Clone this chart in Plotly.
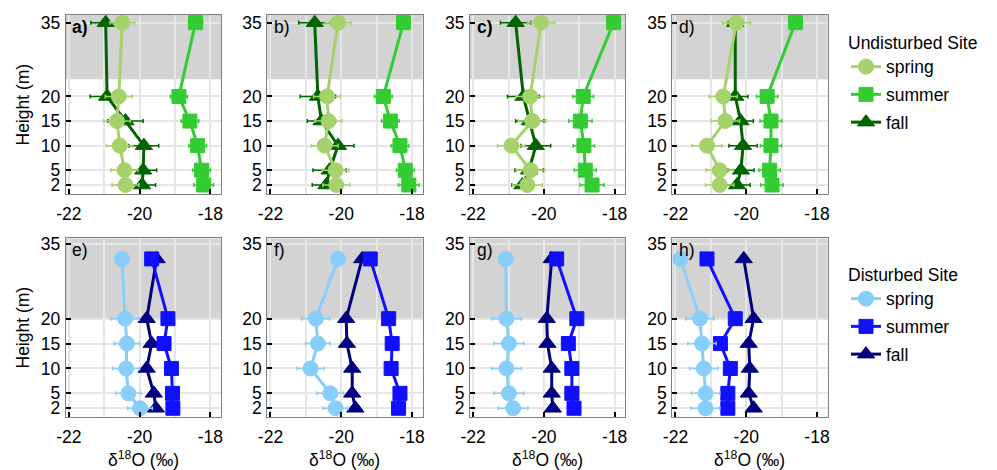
import plotly.graph_objects as go

# ---------------- data ----------------
heights_undist = [2, 5, 10, 15, 20, 35]
heights_dist = [2, 5, 10, 15, 20, 32]
seasons = ["spring", "summer", "fall"]
panel_labels = ["a)", "b)", "c)", "d)", "e)", "f)", "g)", "h)"]
x_tick_vals = [-22, -20, -18]
y_tick_vals = [2, 5, 10, 15, 20, 35]

# Undisturbed site, panels a-d (values ordered by heights_undist)
spring_undist = [
    [-20.40, -20.43, -20.56, -20.64, -20.59, -20.49],
    [-20.14, -20.16, -20.47, -20.36, -20.40, -20.09],
    [-20.47, -20.38, -20.92, -20.33, -20.39, -20.08],
    [-20.75, -20.75, -21.11, -20.59, -20.65, -20.28],
]
spring_undist_err = [
    [0.38, 0.38, 0.38, 0.38, 0.38, 0.35],
    [0.38, 0.38, 0.38, 0.38, 0.38, 0.37],
    [0.42, 0.40, 0.39, 0.39, 0.40, 0.39],
    [0.40, 0.39, 0.42, 0.40, 0.40, 0.40],
]
summer_undist = [
    [-18.19, -18.25, -18.36, -18.58, -18.89, -18.42],
    [-18.09, -18.19, -18.34, -18.61, -18.81, -18.24],
    [-18.64, -18.83, -18.87, -18.97, -18.89, -18.03],
    [-19.27, -19.34, -19.30, -19.30, -19.41, -18.61],
]
summer_undist_err = [
    [0.28, 0.25, 0.25, 0.25, 0.24, 0.20],
    [0.29, 0.25, 0.25, 0.25, 0.25, 0.17],
    [0.34, 0.31, 0.30, 0.33, 0.29, 0.18],
    [0.32, 0.30, 0.30, 0.31, 0.30, 0.18],
]
fall_undist = [
    [-19.93, -19.90, -19.88, -20.40, -20.92, -20.96],
    [-20.42, -20.33, -20.09, -20.56, -20.66, -20.75],
    [-20.61, -20.42, -20.23, -20.40, -20.58, -20.80],
    [-20.26, -20.15, -20.09, -20.16, -20.31, -20.31],
]
fall_undist_err = [
    [0.38, 0.38, 0.42, 0.50, 0.48, 0.42],
    [0.40, 0.47, 0.45, 0.40, 0.50, 0.45],
    [0.30, 0.40, 0.42, 0.40, 0.45, 0.43],
    [0.37, 0.37, 0.40, 0.36, 0.36, 0.20],
]

# Disturbed site, panels e-h (values ordered by heights_dist)
spring_dist = [
    [-19.99, -20.32, -20.38, -20.36, -20.41, -20.50],
    [-20.16, -20.31, -20.87, -20.66, -20.72, -20.09],
    [-20.87, -20.99, -21.06, -20.99, -21.06, -21.08],
    [-21.15, -21.15, -21.20, -21.25, -21.31, -21.86],
]
spring_dist_err = [
    [0.35, 0.36, 0.38, 0.36, 0.40, 0.10],
    [0.35, 0.38, 0.38, 0.35, 0.40, 0.10],
    [0.42, 0.42, 0.42, 0.42, 0.42, 0.10],
    [0.40, 0.40, 0.40, 0.40, 0.40, 0.05],
]
summer_dist = [
    [-19.06, -19.07, -19.10, -19.31, -19.20, -19.66],
    [-18.38, -18.34, -18.59, -18.56, -18.66, -19.18],
    [-19.15, -19.21, -19.21, -19.31, -19.07, -19.64],
    [-20.52, -20.52, -20.45, -20.73, -20.31, -21.11],
]
summer_dist_err = [
    [0.12, 0.12, 0.12, 0.12, 0.12, 0.10],
    [0.12, 0.12, 0.12, 0.12, 0.12, 0.10],
    [0.15, 0.18, 0.18, 0.15, 0.15, 0.10],
    [0.15, 0.15, 0.15, 0.12, 0.15, 0.05],
]
fall_dist = [
    [-19.54, -19.60, -19.80, -19.66, -19.80, -19.52],
    [-19.60, -19.69, -19.69, -19.84, -19.86, -19.41],
    [-19.75, -19.78, -19.78, -19.90, -19.92, -19.78],
    [-19.79, -19.93, -19.90, -19.93, -19.79, -20.07],
]
fall_dist_err = [
    [0.12, 0.12, 0.12, 0.12, 0.12, 0.10],
    [0.10, 0.10, 0.10, 0.10, 0.10, 0.10],
    [0.10, 0.10, 0.10, 0.10, 0.10, 0.10],
    [0.08, 0.08, 0.08, 0.08, 0.08, 0.08],
]

canopy_undist = 23.5
canopy_dist = 20

# ---------------- style ----------------
W, H = 997, 470
FONT = "Liberation Sans, Arial, Helvetica, sans-serif"
FS = 17.5
col_undist = {"spring": "#a5d26a", "summer": "#33cc33", "fall": "#006400"}
col_dist = {"spring": "#87cefa", "summer": "#1010ff", "fall": "#000080"}
symbols = {"spring": "circle", "summer": "square", "fall": "triangle-up"}
msize = {"spring": 15, "summer": 14, "fall": 15}
rank = {"spring": 1, "summer": 2, "fall": 3}

col_left_px = [65.7, 267.3, 470.0, 672.3]
panel_w_px = 155.3
rows_px = [(15.0, 194.0), (238.3, 416.7)]
yranges = [[0.17, 36.56], [0.31, 36.14]]
xrange_ = [-22.09, -17.70]

fig = go.Figure()
layout = dict(
    width=W, height=H, margin=dict(l=0, r=0, t=0, b=0),
    paper_bgcolor="white", plot_bgcolor="white",
    font=dict(family=FONT, size=FS, color="black"),
    showlegend=True,
    shapes=[], annotations=[],
)

undist_sets = {"spring": (spring_undist, spring_undist_err),
               "summer": (summer_undist, summer_undist_err),
               "fall": (fall_undist, fall_undist_err)}
dist_sets = {"spring": (spring_dist, spring_dist_err),
             "summer": (summer_dist, summer_dist_err),
             "fall": (fall_dist, fall_dist_err)}

for r in range(2):
    for c in range(4):
        k = r * 4 + c + 1
        xa = "xaxis" if k == 1 else f"xaxis{k}"
        ya = "yaxis" if k == 1 else f"yaxis{k}"
        xref = "x" if k == 1 else f"x{k}"
        yref = "y" if k == 1 else f"y{k}"
        x0 = col_left_px[c] / W
        x1 = (col_left_px[c] + panel_w_px) / W
        top, bot = rows_px[r]
        layout[xa] = dict(
            domain=[x0, x1], anchor=yref, range=xrange_,
            tickvals=x_tick_vals, ticktext=[str(v) for v in x_tick_vals],
            ticks="inside", ticklen=5, tickwidth=2, tickcolor="black",
            showgrid=True, gridcolor="#e6e6e6", gridwidth=2,
            minor=dict(tickvals=[-21, -19], showgrid=True, gridcolor="#e6e6e6", gridwidth=2, ticks=""),
            showline=True, linecolor="#808080", linewidth=1, mirror=True,
            zeroline=False, automargin=False, ticklabelstandoff=4,
            tickfont=dict(size=FS),
        )
        layout[ya] = dict(
            domain=[1 - bot / H, 1 - top / H], anchor=xref, range=yranges[r],
            tickvals=y_tick_vals, ticktext=[str(v) for v in y_tick_vals],
            ticks="inside", ticklen=5, tickwidth=2, tickcolor="black",
            showgrid=True, gridcolor="#e6e6e6", gridwidth=2,
            showline=True, linecolor="#808080", linewidth=1, mirror=True,
            zeroline=False, automargin=False, ticklabelstandoff=1,
            tickfont=dict(size=FS),
        )
        canopy = canopy_undist if r == 0 else canopy_dist
        layout["shapes"].append(dict(
            type="rect", xref=f"{xref} domain", yref=yref,
            x0=0, x1=1, y0=canopy, y1=yranges[r][1],
            fillcolor="#d3d3d3", line=dict(width=0), layer="below"))
        lab = panel_labels[k - 1]
        layout["annotations"].append(dict(
            text=f"<b>{lab}</b>" if lab in ("a)", "c)") else lab,
            xref=f"{xref} domain", yref=f"{yref} domain",
            x=0.03, y=1.0, xanchor="left", yanchor="top",
            showarrow=False, font=dict(size=FS)))

        sets = undist_sets if r == 0 else dist_sets
        cols = col_undist if r == 0 else col_dist
        hts = heights_undist if r == 0 else heights_dist
        site = "undist" if r == 0 else "dist"
        for s in ["fall", "summer", "spring"]:
            vals, errs = sets[s]
            fig.add_trace(go.Scatter(
                x=vals[c], y=hts, mode="lines+markers", name=s,
                xaxis=xref, yaxis=yref,
                legendgroup=f"{site}_{s}", legendrank=rank[s],
                line=dict(color=cols[s], width=3),
                marker=dict(symbol=symbols[s], size=msize[s], color=cols[s],
                            line=dict(color=cols[s], width=1)),
                error_x=dict(type="data", array=errs[c], visible=True,
                             color=cols[s], thickness=1.5, width=2),
                showlegend=(c == 0),
                legend="legend" if r == 0 else "legend2",
            ))

# axis titles
for r in range(2):
    top, bot = rows_px[r]
    layout["annotations"].append(dict(
        text="Height (m)", xref="paper", yref="paper",
        x=22 / W, y=1 - ((top + bot) / 2) / H, xanchor="center", yanchor="middle",
        textangle=-90, showarrow=False, font=dict(size=FS)))
for c in range(4):
    layout["annotations"].append(dict(
        text="δ<sup>18</sup>O (‰)", xref="paper", yref="paper",
        x=(col_left_px[c] + panel_w_px / 2) / W, y=1 - 459 / H,
        xanchor="center", yanchor="middle", showarrow=False, font=dict(size=FS)))

layout["legend"] = dict(
    x=846 / W, y=1 - 26 / H, xanchor="left", yanchor="top",
    title=dict(text="Undisturbed Site", font=dict(size=FS)),
    traceorder="grouped", tracegroupgap=2,
    bgcolor="rgba(0,0,0,0)", font=dict(size=FS),
)
layout["legend2"] = dict(
    x=846 / W, y=1 - 258 / H, xanchor="left", yanchor="top",
    title=dict(text="Disturbed Site", font=dict(size=FS)),
    traceorder="grouped", tracegroupgap=2,
    bgcolor="rgba(0,0,0,0)", font=dict(size=FS),
)

fig.update_layout(**layout)
fig.write_html("out.html")
